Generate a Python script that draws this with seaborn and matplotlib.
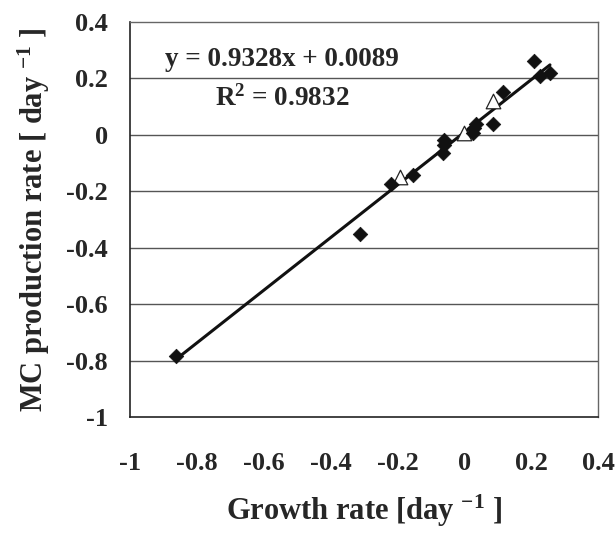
import numpy as np
import pandas as pd
import matplotlib
matplotlib.use("Agg")
import matplotlib.pyplot as plt
import seaborn as sns

# filled diamonds
diamond_growth = [-0.862, -0.311, -0.219, -0.154, -0.065, -0.060, -0.060,
                  0.025, 0.030, 0.035, 0.085, 0.115, 0.207, 0.227, 0.256]
diamond_mc = [-0.782, -0.350, -0.173, -0.141, -0.066, -0.037, -0.019,
              0.005, 0.023, 0.038, 0.038, 0.153, 0.263, 0.208, 0.218]

# open triangles
triangle_growth = [-0.194, 0.000, 0.085]
triangle_mc = [-0.148, 0.005, 0.120]

# trend line as printed on the chart
slope = 0.9328
intercept = 0.0089
r_squared = 0.9832

ticks = [-1, -0.8, -0.6, -0.4, -0.2, 0, 0.2, 0.4]
tick_labels = ["-1", "-0.8", "-0.6", "-0.4", "-0.2", "0", "0.2", "0.4"]

sns.set_style("white")
plt.rcParams["font.family"] = ["Liberation Serif", "DejaVu Serif"]
plt.rcParams["font.weight"] = "bold"
plt.rcParams["mathtext.default"] = "regular"

fig = plt.figure(figsize=(6.16, 5.34), dpi=100)
ax = fig.add_axes([0.211, 0.219, 0.760, 0.740])

diamonds = pd.DataFrame({"growth": diamond_growth, "mc": diamond_mc})
triangles = pd.DataFrame({"growth": triangle_growth, "mc": triangle_mc})

all_x = np.array(diamond_growth + triangle_growth)
line_x = np.array([all_x.min(), all_x.max()])
line = pd.DataFrame({"growth": line_x, "mc": slope * line_x + intercept})

sns.lineplot(data=line, x="growth", y="mc", ax=ax, color="#111111",
             linewidth=2.2, zorder=2)
sns.scatterplot(data=triangles, x="growth", y="mc", ax=ax, marker="^", s=110,
                facecolor="white", edgecolor="#222222", linewidth=0.9, zorder=3)
sns.scatterplot(data=diamonds, x="growth", y="mc", ax=ax, marker="D", s=55,
                color="#111111", edgecolor="#111111", linewidth=0.5, zorder=4)

ax.set_xlim(-1, 0.4)
ax.set_ylim(-1, 0.4)
ax.set_xticks(ticks)
ax.set_xticklabels(tick_labels)
ax.set_yticks(ticks)
ax.set_yticklabels(tick_labels)
ax.tick_params(axis="both", direction="out", length=6, width=1.2, color="#222222",
               labelsize=19, pad=10)
ax.tick_params(axis="x", pad=19)
for lab in ax.get_xticklabels() + ax.get_yticklabels():
    lab.set_fontweight("bold")

for y in ticks[1:-1]:
    ax.axhline(y, color="#555555", linewidth=1.0, zorder=1)

for side in ["left", "bottom"]:
    ax.spines[side].set_color("#222222")
    ax.spines[side].set_linewidth(1.2)
for side in ["top", "right"]:
    ax.spines[side].set_color("#666666")
    ax.spines[side].set_linewidth(1.0)

ax.set_xlabel("Growth rate [day $^{-1}$ ]", fontsize=22, fontweight="bold",
              labelpad=13)
ax.set_ylabel("MC production rate [ day $^{-1}$ ]", fontsize=22,
              fontweight="bold", labelpad=10)

ax.text(-0.545, 0.265, f"y = {slope}x + {intercept}", fontsize=19.5,
        fontweight="bold", ha="center", va="center")
ax.text(-0.545, 0.130, f"R$^2$ = {r_squared}", fontsize=19.5,
        fontweight="bold", ha="center", va="center")

fig.savefig("out.png", dpi=100)
